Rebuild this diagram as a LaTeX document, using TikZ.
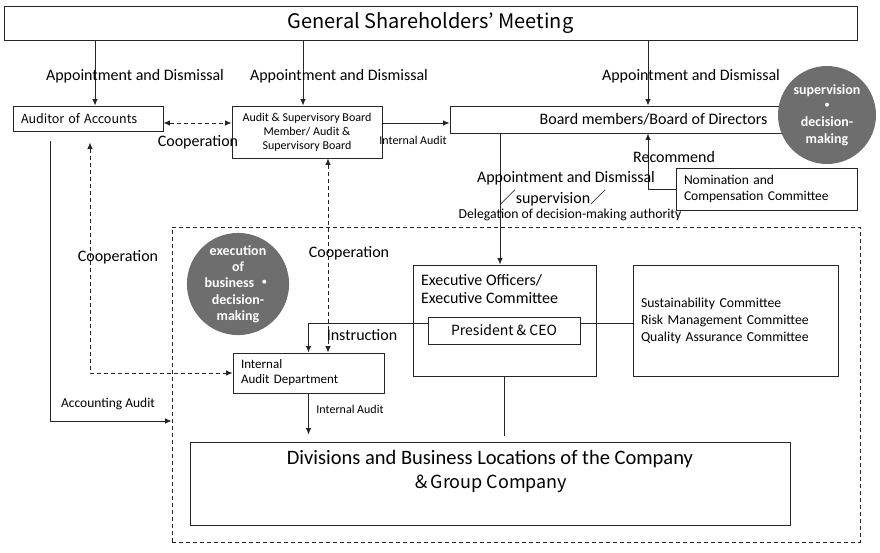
\documentclass[tikz,border=0pt]{standalone}
\usepackage{fontspec}
\setmainfont{Carlito}
\newfontfamily\jpfont{Noto Sans CJK JP}
\usetikzlibrary{calc,positioning,arrows.meta}

\begin{document}
\begin{tikzpicture}[x=1pt,y=-1pt,line width=0.9pt,draw=black!85,
  box/.style={draw=black!85,inner sep=0pt},
  lbox/.style={draw=black!85,inner xsep=8pt,inner ysep=0pt,align=left},
  arr/.style={-{Latex[length=6.5pt,width=5.5pt]}},
  coop/.style={{Latex[length=6.5pt,width=5.5pt]}-{Latex[length=6.5pt,width=5.5pt]},dash pattern=on 4pt off 3pt},
  role/.style={circle,fill=black!57,text=white,align=center,inner sep=0pt,
    minimum size=98pt,font=\bfseries\fontsize{14}{16.3}\selectfont},
  lbl/.style={font=\fontsize{16}{18}\selectfont},
  small/.style={font=\fontsize{12}{14}\selectfont}]
  \useasboundingbox (0,0) rectangle (880,552);

  \node[box,minimum width=853pt,minimum height=34pt,
    font=\jpfont\fontsize{20}{24}\selectfont] (gsm) at (430.5,23) {General Shareholders’ Meeting};

  \node[lbox,text width=134pt,minimum height=25pt,
    font=\jpfont\fontsize{12.5}{15}\selectfont] (aud) at (88,118.5) {Auditor of Accounts};
  \node[box,minimum width=150pt,minimum height=52pt,align=center,
    font=\fontsize{12}{14}\selectfont] (asb) at (307,132)
    {Audit \& Supervisory Board\\Member/ Audit \&\\Supervisory Board};
  \node[box,minimum width=407pt,minimum height=27pt,lbl] (bod) at (653.5,119.5)
    {Board members/Board of Directors};
  \node[lbox,text width=165pt,minimum height=42pt,
    font=\fontsize{13.5}{16}\selectfont] (nom) at (766.5,189)
    {Nomination and\\Compensation Committee};

  \node[box,dash pattern=on 4pt off 3pt,minimum width=688pt,minimum height=315pt] (grp) at (516,384.5) {};

  \node[box,minimum width=183pt,minimum height=111pt] (exec) at (504.5,320.5) {};
  \node[anchor=north west,inner sep=0pt,align=left,font=\fontsize{16}{18}\selectfont]
    (exectxt) at ($(exec.north west)+(8,9)$) {Executive Officers/\\Executive Committee};
  \node[box,fill=white,minimum width=152pt,minimum height=27pt,
    font=\jpfont\fontsize{14}{16}\selectfont] (ceo) at (504,330.5) {President \& CEO};
  \node[lbox,text width=189pt,minimum height=111pt,
    font=\fontsize{13.7}{17}\selectfont] (cmt) at (735.5,320.5)
    {Sustainability Committee\\Risk Management Committee\\Quality Assurance Committee};
  \node[lbox,text width=135pt,minimum height=40pt,
    font=\fontsize{13}{15}\selectfont] (iad) at (308.5,373) {Internal\\Audit Department};
  \node[box,minimum width=600pt,minimum height=83pt] (div) at (490,483.5) {};
  \node[anchor=north,inner sep=0pt,align=center,font=\fontsize{20.5}{24}\selectfont]
    (divtxt) at ($(div.north)+(0,8)$)
    {Divisions and Business Locations of the Company\\{\jpfont\fontsize{18}{24}\selectfont ＆Group Company}};

  \node[role] (sup) at (827,115) {supervision\\{\jpfont ・}\\decision-\\making};
  \node[role] (exe) at (238,284) {execution\\of\\business {\jpfont ・}\\decision-\\making};

  \draw[arr] ([xshift=7pt]aud.north |- gsm.south) -- ([xshift=7pt]aud.north);
  \draw[arr] ([xshift=-4pt]asb.north |- gsm.south) -- ([xshift=-4pt]asb.north);
  \draw[arr] ([xshift=-5.5pt]bod.north |- gsm.south) -- ([xshift=-5.5pt]bod.north);
  \node[lbl] (ad1) at (135,76) {Appointment and Dismissal};
  \node[lbl] (ad2) at (339,76) {Appointment and Dismissal};
  \node[lbl] (ad3) at (691,76) {Appointment and Dismissal};

  \draw[coop] ([yshift=-4.5pt]aud.east) -- ([yshift=-4.5pt]aud.east -| asb.west);
  \node[lbl] (co1) at (198,142) {Cooperation};
  \draw[arr] ([yshift=9pt]asb.east) -- ([yshift=9pt]asb.east -| bod.west);
  \node[small] (ia1) at (413,140) {Internal Audit};

  \draw[arr] (nom.west) -| ([xshift=-5.5pt]bod.south);
  \node[lbl] (rec) at (674,157) {Recommend};
  \draw[arr] ([xshift=-4.5pt]exec.north |- bod.south) -- ([xshift=-4.5pt]exec.north);
  \node[lbl] (ad4) at (566,178) {Appointment and Dismissal};
  \node[lbl] (sv) at (553,198) {{\jpfont ／}supervision{\jpfont ／}};
  \node[font=\fontsize{13.7}{16}\selectfont] (dl) at (570,215) {Delegation of decision-making authority};

  \draw[coop,shorten <=11pt] ([xshift=2pt]aud.south) |- (iad.west);
  \node[lbl] (co2) at (118,257) {Cooperation};
  \draw[coop] ([xshift=21pt]asb.south) -- ([xshift=21pt]asb.south |- iad.north);
  \node[lbl] (co3) at (349,253) {Cooperation};

  \draw[arr] ([yshift=7.5pt]ceo.west) -| (iad.north);
  \node[lbl] (ins) at (362,335) {Instruction};
  \draw ([yshift=7.5pt]ceo.east) -- ([yshift=7.5pt]ceo.east -| cmt.west);
  \draw[shorten >=6pt] (exec.south) -- (exec.south |- div.north);
  \draw[arr,shorten >=7pt] (iad.south) -- (iad.south |- div.north);
  \node[small] (ia2) at (350,409) {Internal Audit};

  \draw[arr,shorten <=10pt] ([xshift=-38pt]aud.south) |- ([yshift=-36.5pt]grp.west);
  \node[font=\fontsize{13.5}{16}\selectfont] (acc) at (108,404) {Accounting Audit};
\end{tikzpicture}
\end{document}
